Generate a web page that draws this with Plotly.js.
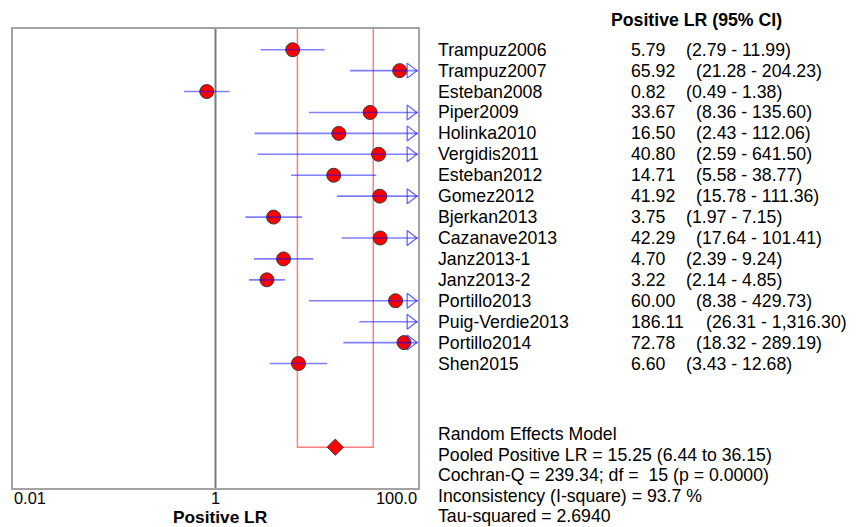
<!DOCTYPE html>
<html>
<head>
<meta charset="utf-8">
<script src="https://cdn.plot.ly/plotly-3.0.1.min.js"></script>
<style>
  html, body { margin: 0; padding: 0; background: #fff; }
  #chart { width: 861px; height: 527px; }
</style>
</head>
<body>
<div id="chart"></div>
<script>
// Study-level positive likelihood ratios with 95% confidence limits
const studies = [
  'Trampuz2006', 'Trampuz2007', 'Esteban2008', 'Piper2009', 'Holinka2010',
  'Vergidis2011', 'Esteban2012', 'Gomez2012', 'Bjerkan2013', 'Cazanave2013',
  'Janz2013-1', 'Janz2013-2', 'Portillo2013', 'Puig-Verdie2013', 'Portillo2014',
  'Shen2015'
];
const lr = [5.79, 65.92, 0.82, 33.67, 16.50, 40.80, 14.71, 41.92, 3.75, 42.29,
            4.70, 3.22, 60.00, 186.11, 72.78, 6.60];
const ciLow = [2.79, 21.28, 0.49, 8.36, 2.43, 2.59, 5.58, 15.78, 1.97, 17.64,
               2.39, 2.14, 8.38, 26.31, 18.32, 3.43];
const ciHigh = [11.99, 204.23, 1.38, 135.60, 112.06, 641.50, 38.77, 111.36, 7.15, 101.41,
                9.24, 4.85, 429.73, 1316.30, 289.19, 12.68];

// Pooled random-effects estimate
const pooledLR = 15.25;
const pooledLow = 6.44;
const pooledHigh = 36.15;
const cochranQ = 239.34;
const df = 15;
const pValue = '0.0000';
const iSquare = 93.7;
const tauSquared = '2.6940';

// Log axis ticks
const tickVals = [0.01, 1, 100];
const tickText = ['0.01', '1', '100.0'];
const axisMin = 0.01;
const axisMax = 100;

// ---- geometry helpers (page pixels -> paper coordinates) ----
const W = 861, H = 527;
const M = { l: 13, r: 443, t: 29, b: 39 };
const plotW = W - M.l - M.r;
const plotH = H - M.t - M.b;
const px = x => (x - M.l) / plotW;
const py = y => (H - M.b - y) / plotH;

const FONT = 'Arial, "Liberation Sans", sans-serif';
const TXT = 17.7;
const fmt = v => v.toLocaleString('en-US', { minimumFractionDigits: 2, maximumFractionDigits: 2 });

const rows = studies.map((_, i) => i);
const pooledRow = 19;

// CI segments, clamped to the visible axis span
const ciX = [], ciY = [];
rows.forEach(i => {
  ciX.push(Math.max(ciLow[i], axisMin), Math.min(ciHigh[i], axisMax), null);
  ciY.push(i, i, null);
});

// open arrowheads where the upper limit runs past the axis
const arrowRows = rows.filter(i => ciHigh[i] > axisMax);
const arrowX = arrowRows.map(() => Math.pow(10, Math.log10(axisMax) - 0.075));

const traces = [
  { // reference line at LR = 1
    x: [1, 1], y: [-1, 21], mode: 'lines', hoverinfo: 'skip',
    line: { color: '#7a7a7a', width: 2 }
  },
  { // study point estimates
    x: lr, y: rows, mode: 'markers', hoverinfo: 'x',
    marker: { symbol: 'circle', size: 14, color: '#ff0000', line: { color: '#3a3a3a', width: 1 } }
  },
  { // pooled CI bracket
    x: [pooledLow, pooledLow, pooledHigh, pooledHigh],
    y: [-1, pooledRow, pooledRow, -1],
    mode: 'lines', hoverinfo: 'skip',
    line: { color: 'rgba(255,0,0,0.5)', width: 1.5 }
  },
  { // study confidence intervals
    x: ciX, y: ciY, mode: 'lines', hoverinfo: 'skip',
    line: { color: 'rgba(0,0,255,0.5)', width: 1.6 }
  },
  { // arrowheads
    x: arrowX, y: arrowRows, mode: 'markers', hoverinfo: 'skip', cliponaxis: false,
    marker: { symbol: 'triangle-right-open', size: 13, color: 'rgba(40,40,255,0.75)', line: { width: 1.2 } }
  },
  { // pooled estimate
    x: [pooledLR], y: [pooledRow], mode: 'markers', hoverinfo: 'x',
    marker: { symbol: 'diamond', size: 12.5, color: '#ff0000', line: { color: '#3a3a3a', width: 1 } }
  }
];

const annotations = [];
const textAnn = (text, x, y, yref, opts = {}) => Object.assign({
  text, x, y, xref: 'paper', yref, xanchor: 'left', yanchor: 'middle',
  showarrow: false, borderpad: 0,
  font: { family: FONT, size: TXT, color: '#000' }
}, opts);

// column header
annotations.push(textAnn('<b>Positive LR (95% CI)</b>', px(610), py(20), 'paper'));

// per-study rows: name, estimate, interval
rows.forEach(i => {
  const val = fmt(lr[i]);
  annotations.push(textAnn(studies[i], px(437), i, 'y'));
  annotations.push(textAnn(val, px(630), i, 'y'));
  const ciXpx = 630 + val.length * 9.8 + 16;
  annotations.push(textAnn('(' + fmt(ciLow[i]) + ' - ' + fmt(ciHigh[i]) + ')', px(ciXpx), i, 'y'));
});

// summary block
const summary = [
  'Random Effects Model',
  'Pooled Positive LR = ' + fmt(pooledLR) + ' (' + fmt(pooledLow) + ' to ' + fmt(pooledHigh) + ')',
  'Cochran-Q = ' + fmt(cochranQ) + '; df = \u00a0' + df + ' (p = ' + pValue + ')',
  'Inconsistency (I-square) = ' + iSquare.toFixed(1) + ' %',
  'Tau-squared = ' + tauSquared
];
summary.forEach((s, k) => annotations.push(textAnn(s, px(437), py(434 + k * 20.5), 'paper')));

// x tick labels: first flush left, middle centred, last flush right
const tickAnchors = ['left', 'center', 'right'];
tickVals.forEach((v, k) => annotations.push({
  text: tickText[k], x: Math.log10(v), xref: 'x', y: py(497.5), yref: 'paper',
  xanchor: tickAnchors[k], yanchor: 'middle', showarrow: false, borderpad: 0,
  font: { family: FONT, size: 16.4, color: '#000' }
}));

// x axis title
annotations.push({
  text: '<b>Positive LR</b>', x: px(220.5), xref: 'paper', y: py(517), yref: 'paper',
  xanchor: 'center', yanchor: 'middle', showarrow: false, borderpad: 0,
  font: { family: FONT, size: 17.3, color: '#000' }
});

const layout = {
  width: W, height: H,
  margin: { l: M.l, r: M.r, t: M.t, b: M.b, pad: 0 },
  paper_bgcolor: '#fff', plot_bgcolor: '#fff',
  showlegend: false,
  font: { family: FONT, color: '#000' },
  xaxis: {
    type: 'log', range: [Math.log10(axisMin), Math.log10(axisMax)], autorange: false,
    showgrid: false, zeroline: false, showticklabels: false, ticks: '',
    showline: true, mirror: true, linecolor: '#a3a3a3', linewidth: 2, fixedrange: true
  },
  yaxis: {
    range: [20.95, -0.99], autorange: false,
    showgrid: false, zeroline: false, showticklabels: false, ticks: '',
    showline: true, mirror: true, linecolor: '#a3a3a3', linewidth: 2, fixedrange: true
  },
  annotations
};

Plotly.newPlot('chart', traces, layout, { displayModeBar: false, staticPlot: true });
</script>
</body>
</html>
